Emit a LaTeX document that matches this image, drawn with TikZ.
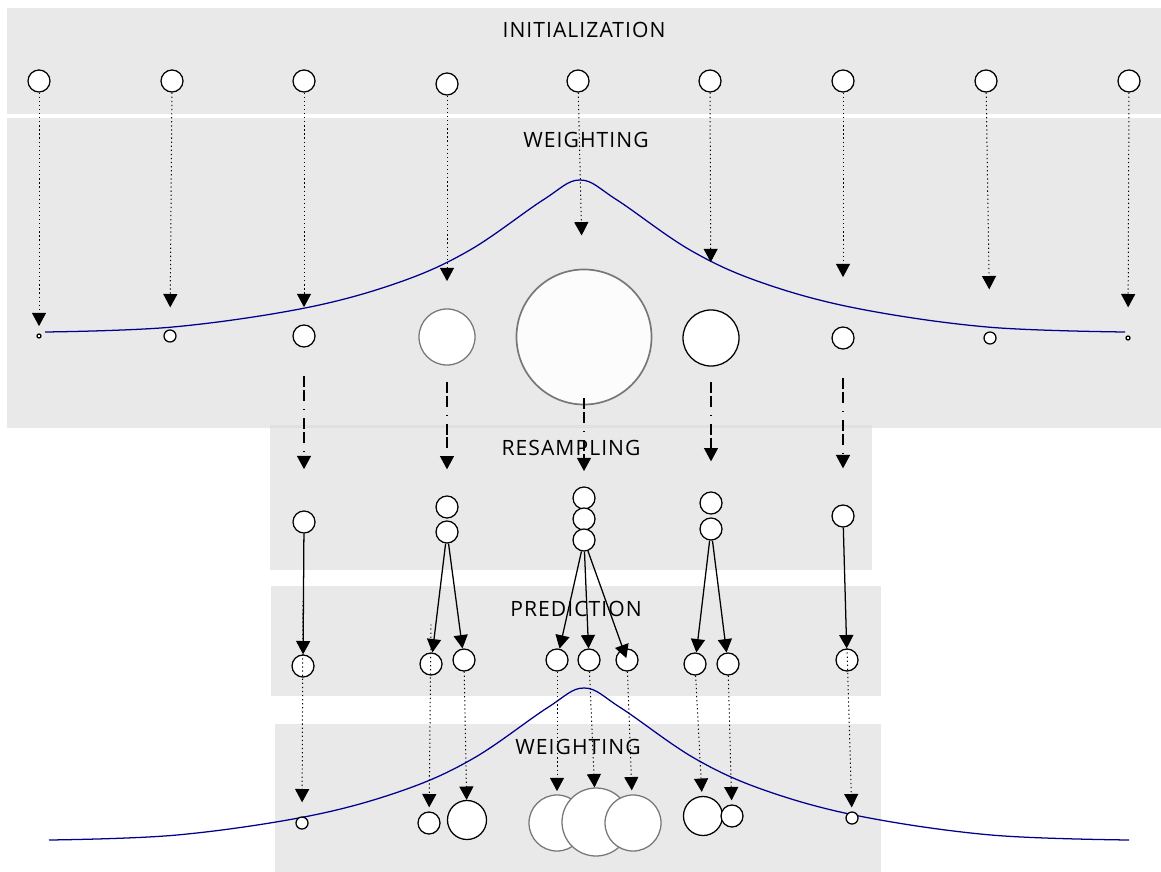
\documentclass[tikz,border=0pt]{standalone}
\usepackage{xcolor}
\usepackage{tikz}
\usepackage{fontspec}
\setmainfont{Open Sans}
\usetikzlibrary{arrows.meta}

\definecolor{fondo}{HTML}{E9E9E9}
\definecolor{fondoborde}{HTML}{E0E0E0}
\definecolor{azul}{RGB}{0,0,140}
\definecolor{gris}{HTML}{777777}

\tikzset{
  campana/.pic={\draw[azul, line width=0.9pt] plot[smooth, tension=0.6] coordinates {(-535,152) (-407,147) (-275,128) (-180,102) (-110,70) (-37,20) (0,0) (37,20) (110,70) (180,102) (275,128) (407,147) (545,152)};}
}

\begin{document}
\begin{tikzpicture}[x=0.025cm, y=-0.025cm,
    part/.style={circle, draw, fill=white, line width=0.9pt, inner sep=0pt, minimum size=#1},
    part/.default=0.55cm,
    titulo/.style={anchor=base, font=\addfontfeatures{LetterSpace=5}\fontsize{15}{18}\selectfont, text=black},
    flecha/.style={-{Triangle[width=10pt,length=9.5pt]}, line width=0.9pt},
    punteado/.style={flecha, dotted, line width=0.7pt},
    guion/.style={flecha, line width=0.8pt, dash pattern=on 7.8pt off 2.1pt on 7.8pt off 5.7pt on 0.7pt off 5.7pt}]
      \useasboundingbox (0,0) rectangle (1161,872);

      % Bandas
      \fill[fondo] (7,8) rectangle (1161,114);
      \fill[fondo] (7,118) rectangle (1161,428);
      \fill[fondo] (270,428) rectangle (872,570);
      \fill[fondoborde] (270,425) rectangle (872,428);
      \fill[fondo] (271,586) rectangle (881,696);
      \fill[fondo] (275,724) rectangle (881,872);

      \node[titulo] (tini) at (584,38) {INITIALIZATION};
      \node[titulo] (tpes) at (586,148) {WEIGHTING};
      \node[titulo] (tres) at (571,455) {RESAMPLING};
      \node[titulo] (tpre) at (576,616) {PREDICTION};
      \node[titulo] (tpes2) at (578,754) {WEIGHTING};

      % Verosimilitud
      \pic at (580,180) {campana};
      \pic at (584,688) {campana};

      % Partículas iniciales
      \node[part] (i1) at (39,81) {};
      \node[part] (i2) at (172,81) {};
      \node[part] (i3) at (304,81) {};
      \node[part] (i4) at (447,84) {};
      \node[part] (i5) at (578,81) {};
      \node[part] (i6) at (710,81) {};
      \node[part] (i7) at (843,81) {};
      \node[part] (i8) at (986,81) {};
      \node[part] (i9) at (1129,81) {};

      % Pesos
      \node[part=0.1cm] (w1) at (39,336) {};
      \node[part=0.3cm] (w2) at (170,336) {};
      \node[part] (w3) at (304,336) {};
      \node[part=1.4cm, draw=gris] (w4) at (447,337) {};
      \node[part=3.375cm, draw=gris, line width=1.2pt, fill=white!99!black] (w5) at (584,337) {};
      \node[part=1.4cm] (w6) at (711,338) {};
      \node[part] (w7) at (843,338) {};
      \node[part=0.3cm] (w8) at (990,338) {};
      \node[part=0.1cm] (w9) at (1128,338) {};

      % Remuestreo
      \node[part] (r3) at (304,522) {};
      \node[part] (r4a) at (447,507) {};
      \node[part] (r4b) at (447,532) {};
      \node[part] (r5a) at (584,498) {};
      \node[part] (r5b) at (584,519) {};
      \node[part] (r5c) at (584,540) {};
      \node[part] (r6a) at (711,503) {};
      \node[part] (r6b) at (711,529) {};
      \node[part] (r7) at (843,516) {};

      % Prediccion
      \node[part] (p1) at (303,666) {};
      \node[part] (p2) at (431,664) {};
      \node[part] (p3) at (464,660) {};
      \node[part] (p4) at (557,660) {};
      \node[part] (p5) at (589,660) {};
      \node[part] (p6) at (627,660) {};
      \node[part] (p7) at (695,664) {};
      \node[part] (p8) at (728,664) {};
      \node[part] (p9) at (847,660) {};

      % Nuevos pesos
      \node[part=0.3cm] (f1) at (302,823) {};
      \node[part] (f2) at (429,823) {};
      \node[part=0.975cm] (f3) at (467,820) {};
      \node[part=1.4cm, draw=gris] (f4) at (557,823) {};
      \node[part=1.7cm, draw=gris] (f5) at (596,822) {};
      \node[part=1.4cm, draw=gris] (f6) at (633,823) {};
      \node[part=0.975cm] (f7) at (703,816) {};
      \node[part] (f8) at (732,816) {};
      \node[part=0.3cm] (f9) at (852,818) {};

      % Flechas de pesado
      \draw[punteado, shorten >=0.18cm] (i1) -- (w1);
      \draw[punteado, shorten >=0.55cm] (i2) -- (w2);
      \draw[punteado, shorten >=0.43cm] (i3) -- (w3);
      \draw[punteado, shorten >=0.68cm] (i4) -- (w4);
      \draw[punteado, shorten >=0.83cm] (i5) -- (w5);
      \draw[punteado, shorten >=1.18cm] (i6) -- (w6);
      \draw[punteado, shorten >=1.23cm] (i7) -- (w7);
      \draw[punteado, shorten >=1.05cm] (i8) -- (w8);
      \draw[punteado, shorten >=0.7cm] (i9) -- (w9);

      % Flechas de remuestreo
      \draw[guion, shorten <=0.72cm, shorten >=1.03cm] (w3) -- (r3);
      \draw[guion, shorten <=0.4cm, shorten >=0.65cm] (w4) -- (r4a);
      \draw[guion, shorten <=-0.18cm, shorten >=0.38cm] (w5) -- (r5a);
      \draw[guion, shorten <=0.38cm, shorten >=0.75cm] (w6) -- (r6a);
      \draw[guion, shorten <=0.72cm, shorten >=0.9cm] (w7) -- (r7);

      % Flechas de prediccion
      \draw[flecha] (r3) -- (p1);
      \draw[flecha] (r4b) -- (p2);
      \draw[flecha] (r4b) -- (p3);
      \draw[flecha] (r5c) -- (p4);
      \draw[flecha] (r5c) -- (p5);
      \draw[flecha, shorten >=0.05cm] (r5c) -- (p6.center);
      \draw[flecha] (r6b) -- (p7);
      \draw[flecha] (r6b) -- (p8);
      \draw[flecha] (r7) -- (p9);

      % Flechas al nuevo pesado
      \draw[punteado, shorten >=0.35cm] ([yshift=1.33cm]p1.north) -- (f1);
      \draw[punteado, shorten >=0.1cm] ([yshift=0.7cm]p2.north) -- (f2);
      \draw[punteado] (p3) -- (f3);
      \draw[punteado, shorten >=0.08cm] (p4) -- (f4);
      \draw[punteado] (p5) -- (f5);
      \draw[punteado, shorten >=0.1cm] (p6) -- (f6);
      \draw[punteado, shorten >=0.1cm] (p7) -- (f7);
      \draw[punteado, shorten >=0.1cm] (p8) -- (f8);
      \draw[punteado, shorten >=0.1cm] (p9.north) -- (f9);
    \end{tikzpicture}
\end{document}
